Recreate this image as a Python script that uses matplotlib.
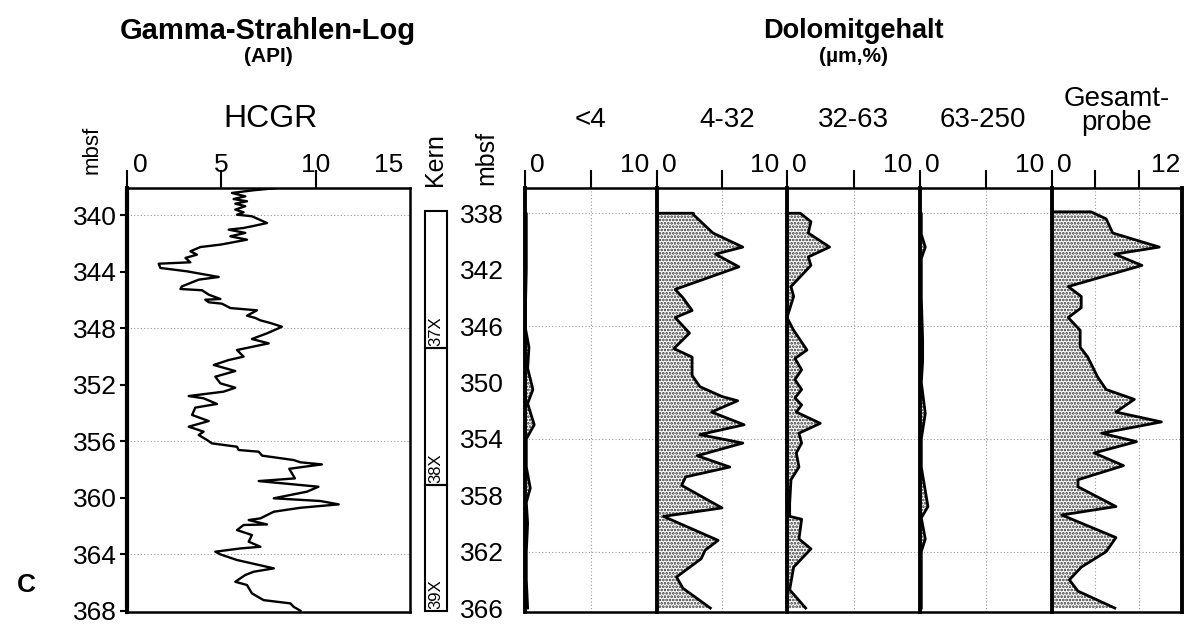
import numpy as np
import matplotlib.pyplot as plt
from matplotlib.patches import Rectangle

plt.rcParams['font.family'] = ['Liberation Sans', 'DejaVu Sans']
plt.rcParams['hatch.linewidth'] = 1.3

# Gamma-Strahlen-Log, HCGR (API) gegen Tiefe (mbsf)
hcgr_depth = [338.07, 338.23, 338.42, 338.66, 338.85, 339.01, 339.18, 339.36, 339.60, 339.79,
              339.96, 340.07, 340.55, 340.73, 340.90, 341.02, 341.25, 341.49, 341.73, 342.08,
              342.25, 342.55, 342.79, 343.02, 343.33, 343.43, 343.73, 343.97, 344.37, 344.56,
              345.03, 345.22, 345.31, 345.62, 345.93, 345.98, 346.16, 346.26, 346.57, 346.73,
              347.11, 347.27, 347.44, 347.63, 347.89, 348.05, 348.36, 348.76, 349.07, 349.54,
              350.01, 350.25, 350.60, 351.03, 351.43, 351.90, 352.21, 352.49, 352.80, 352.96,
              353.36, 353.62, 354.14, 354.57, 354.97, 355.32, 355.56, 355.91, 356.15, 356.39,
              356.62, 356.74, 357.02, 357.33, 357.49, 357.64, 357.95, 358.63, 358.82, 359.22,
              359.57, 360.04, 360.23, 360.47, 360.71, 360.99, 361.46, 361.58, 361.89, 361.93,
              362.29, 362.64, 363.11, 363.47, 363.59, 363.82, 364.01, 364.41, 365.00, 365.24,
              365.47, 365.95, 366.18, 366.77, 367.25, 367.48, 367.72, 368.00]
hcgr_value = [7.95, 6.71, 5.56, 6.27, 5.65, 6.36, 5.74, 6.27, 5.74, 6.18,
              5.83, 6.62, 7.42, 6.80, 6.18, 5.39, 6.27, 5.48, 6.36, 4.95,
              3.89, 3.36, 3.71, 3.10, 3.36, 1.68, 1.77, 3.18, 4.86, 3.80,
              2.92, 2.83, 3.98, 4.33, 4.95, 4.15, 4.33, 5.03, 5.48, 6.89,
              6.36, 6.80, 7.07, 7.60, 8.21, 7.95, 7.42, 6.62, 7.51, 5.83,
              6.18, 5.39, 4.60, 5.74, 4.68, 4.95, 5.74, 5.12, 3.27, 4.06,
              4.77, 3.62, 3.45, 4.33, 3.27, 4.06, 3.80, 4.24, 4.50, 5.83,
              5.92, 6.98, 7.16, 8.83, 9.19, 10.33, 8.60, 8.90, 6.98, 10.15,
              9.54, 7.78, 10.24, 11.22, 9.19, 7.78, 7.07, 6.45, 7.42, 6.18,
              5.83, 6.62, 6.45, 7.07, 6.01, 4.68, 4.95, 5.83, 7.78, 6.71,
              6.27, 5.74, 6.36, 6.62, 7.24, 8.66, 8.83, 9.19]

# Kerne
kern_name = ['37X', '38X', '39X']
kern_top = [339.7, 349.4, 359.1]
kern_bottom = [349.4, 359.1, 368.0]

# Dolomitgehalt (%) je Kornfraktion
lt4_depth = [338.0, 342.0, 346.0, 347.5, 349.0, 350.5, 351.5, 353.0, 354.0, 356.0,
             357.5, 358.5, 360.0, 362.0, 364.0, 366.0]
lt4_value = [0.1, 0.1, 0.0, 0.3, 0.2, 0.6, 0.2, 0.7, 0.1, 0.1,
             0.4, 0.1, 0.2, 0.1, 0.1, 0.2]

f4_32_depth = [338.0, 338.1, 339.4, 340.4, 340.9, 341.8, 343.4, 344.0, 344.9, 345.4,
               346.5, 347.6, 348.2, 349.5, 350.3, 351.0, 351.3, 352.1, 353.0, 353.7,
               354.3, 355.2, 356.0, 356.7, 357.3, 358.9, 359.5, 361.2, 361.9, 362.5,
               363.8, 364.6, 366.0]
f4_32_value = [2.8, 2.8, 4.3, 6.6, 4.5, 6.3, 1.4, 2.0, 2.7, 1.4,
               2.5, 1.3, 2.7, 2.7, 3.3, 5.0, 6.2, 4.2, 6.7, 3.3,
               6.6, 3.1, 5.6, 2.2, 1.9, 5.0, 0.5, 4.7, 3.7, 3.4,
               1.5, 2.0, 4.1]

f32_63_depth = [338.0, 338.6, 339.4, 340.4, 341.1, 341.7, 343.2, 343.9, 345.4, 346.3,
                347.7, 348.3, 349.1, 349.8, 350.5, 351.1, 351.6, 352.1, 352.9, 353.6,
                354.3, 355.0, 356.0, 356.9, 358.6, 359.5, 359.7, 361.1, 361.8, 363.1,
                364.7, 366.0]
f32_63_value = [1.0, 1.8, 1.6, 3.2, 1.6, 1.8, 0.3, 0.5, 0.0, 0.5,
                1.5, 0.6, 1.1, 0.6, 1.1, 0.6, 1.1, 0.7, 2.5, 0.9,
                1.1, 0.7, 0.9, 0.3, 0.2, 0.2, 1.1, 0.9, 1.8, 0.5,
                0.2, 1.4]

f63_250_depth = [338.0, 339.5, 340.4, 341.2, 344.0, 347.0, 348.5, 350.0, 352.2, 354.0,
                 356.0, 358.8, 359.6, 361.1, 362.0, 364.0, 366.0]
f63_250_value = [0.1, 0.1, 0.4, 0.1, 0.1, 0.2, 0.2, 0.1, 0.4, 0.1,
                 0.1, 0.6, 0.1, 0.4, 0.1, 0.1, 0.1]

gesamt_depth = [337.9, 338.4, 339.4, 340.4, 340.9, 341.7, 343.2, 343.9, 344.7, 345.4,
                346.3, 347.5, 348.2, 349.6, 350.5, 351.2, 352.1, 352.8, 353.6, 354.2,
                355.0, 355.9, 356.9, 357.4, 358.8, 359.4, 361.0, 362.0, 363.1, 364.0,
                364.8, 366.0]
gesamt_value = [3.6, 5.0, 5.6, 9.9, 5.8, 8.3, 1.5, 2.7, 2.7, 1.5,
                2.6, 2.6, 3.3, 4.2, 5.0, 7.6, 5.9, 10.1, 4.6, 7.8,
                3.9, 6.6, 2.4, 2.4, 5.9, 0.9, 5.9, 5.0, 2.7, 1.6,
                2.4, 5.8]

columns = ['<4', '4-32', '32-63', '63-250', 'Gesamt-\nprobe']
col_depth = [lt4_depth, f4_32_depth, f32_63_depth, f63_250_depth, gesamt_depth]
col_value = [lt4_value, f4_32_value, f32_63_value, f63_250_value, gesamt_value]
col_max = [10, 10, 10, 10, 12]
col_ticks = [[0, 5, 10]] * 4 + [[0, 4, 8, 12]]

W, H = 1187, 630
fig = plt.figure(figsize=(W / 100, H / 100), dpi=100)


def px_axes(x0, x1, y0=188, y1=612):
    return fig.add_axes([x0 / W, 1 - y1 / H, (x1 - x0) / W, (y1 - y0) / H])


def ftext(x, y, s, **kw):
    fig.text(x / W, 1 - y / H, s, ha='center', va='center', **kw)


def top_label(a, x, s, dx):
    ha = 'left' if dx > 0 else ('right' if dx < 0 else 'center')
    a.annotate(s, xy=(x, 1), xycoords=('data', 'axes fraction'), xytext=(dx, 16),
               textcoords='offset pixels', ha=ha, va='baseline', fontsize=19)


grid_kw = dict(color='#999999', lw=0.8, ls=(0, (1, 2)), zorder=0)

# ---- Gamma log
ax = px_axes(127, 410)
ax.plot(hcgr_value, hcgr_depth, color='black', lw=1.7)
ax.set_xlim(0, 15.0)
ax.set_ylim(368.09, 338.07)
ax.xaxis.tick_top()
ax.set_xticks([0, 5, 10])
ax.set_xticklabels([])
ax.tick_params(axis='x', direction='out', length=13, width=1.5)
for t, dx in zip([0, 5, 10, 15], [6, 0, 0, -7]):
    top_label(ax, t, str(t), dx)
ax.set_yticks(np.arange(340, 369, 4))
ax.tick_params(axis='y', direction='out', length=5, width=1.5, labelsize=19, pad=2)
for d in range(340, 368, 8):
    ax.axhline(d, **grid_kw)
for s in ax.spines.values():
    s.set_linewidth(1.8)
ax.spines['left'].set_linewidth(3)

# ---- Kern
kax = px_axes(425, 447)
kax.set_xlim(0, 1)
kax.set_ylim(368.09, 338.07)
kax.axis('off')
for name, top, bot in zip(kern_name, kern_top, kern_bottom):
    kax.add_patch(Rectangle((0, top), 1, bot - top, fill=False, lw=1.5, ec='black',
                            clip_on=False))
    kax.text(0.5, bot - 0.15, name, rotation=90, ha='center', va='bottom', fontsize=12)

# ---- Dolomitgehalt
edges = [525, 657, 787, 920, 1052, 1182]
for i in range(5):
    a = px_axes(edges[i], edges[i + 1])
    dep = np.array(col_depth[i])
    val = np.array(col_value[i])
    a.fill_betweenx(dep, 0, val, facecolor='white', hatch='.....', edgecolor='#333333', lw=0)
    a.plot(np.r_[0, val], np.r_[dep[0], dep], color='black', lw=2)
    a.set_xlim(0, col_max[i])
    a.set_ylim(366.28, 336.21)
    a.xaxis.tick_top()
    a.set_xticks(col_ticks[i][:-1])
    a.set_xticklabels([])
    a.tick_params(axis='x', direction='out', length=13, width=1.5)
    top_label(a, 0, '0', 5)
    top_label(a, col_max[i], str(col_max[i]), -2 if i == 4 else -8)
    for t in col_ticks[i][1:-1]:
        a.axvline(t, **grid_kw)
    for d in range(338, 366, 8):
        a.axhline(d, **grid_kw)
    for s in a.spines.values():
        s.set_linewidth(1.8)
    a.spines['left'].set_linewidth(2.8)
    if i < 4:
        a.spines['right'].set_visible(False)
    else:
        a.spines['right'].set_linewidth(2.8)
    if i == 0:
        a.set_yticks(np.arange(338, 367, 4))
        a.tick_params(axis='y', length=0, labelsize=19, pad=15)
    else:
        a.set_yticks([])

# ---- Beschriftung
ftext(268, 31, 'Gamma-Strahlen-Log', fontsize=21, fontweight='bold')
ftext(268, 57, '(API)', fontsize=15, fontweight='bold')
ftext(853, 31, 'Dolomitgehalt', fontsize=19.5, fontweight='bold')
ftext(853, 56, '(µm,%)', fontsize=15, fontweight='bold')
ftext(270, 119, 'HCGR', fontsize=23)
ftext(92, 150, 'mbsf', fontsize=16, rotation=90)
ftext(486, 158, 'mbsf', fontsize=18, rotation=90)
ftext(435, 160, 'Kern', fontsize=18, rotation=90)
col_x = [590, 727, 853, 983, 1117]
for name, x in zip(columns, col_x):
    ftext(x, 111 if '\n' in name else 120, name, fontsize=20, linespacing=0.95)
ftext(26, 585, 'C', fontsize=19, fontweight='bold')

fig.savefig('out.png', dpi=100)
